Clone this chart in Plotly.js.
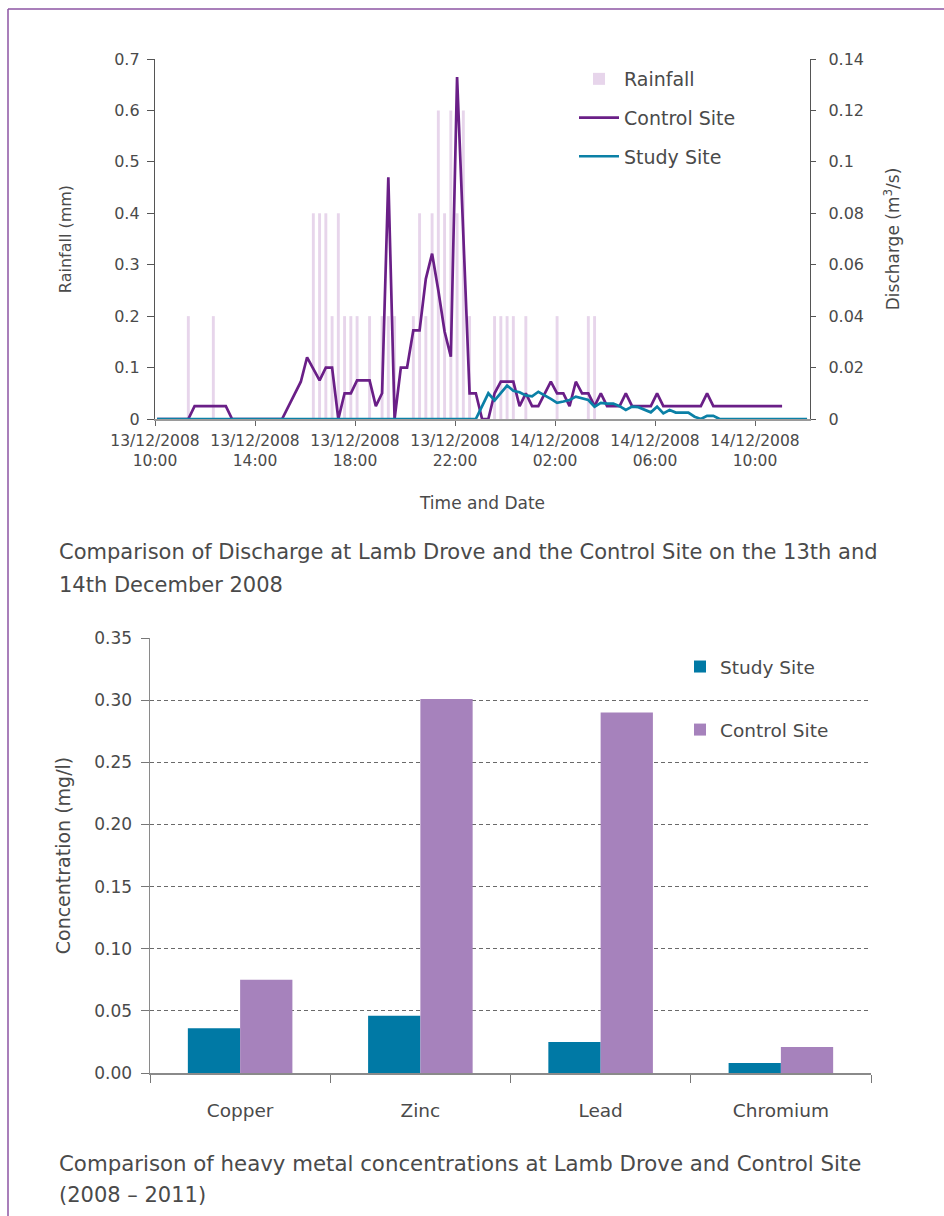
<!DOCTYPE html>
<html>
<head>
<meta charset="utf-8">
<script src="https://cdn.plot.ly/plotly-3.0.1.min.js"></script>
<style>
  html, body { margin: 0; padding: 0; background: #ffffff; }
  #chart { width: 944px; height: 1216px; }
</style>
</head>
<body>
<div id="chart"></div>
<script>
// ---------- Top chart data: rainfall (mm) ----------
var rainTime = ['2008-12-13 11:20','2008-12-13 12:20','2008-12-13 16:20','2008-12-13 16:35','2008-12-13 16:50',
  '2008-12-13 17:05','2008-12-13 17:20','2008-12-13 17:35','2008-12-13 17:50','2008-12-13 18:05',
  '2008-12-13 18:35','2008-12-13 19:05','2008-12-13 19:20','2008-12-13 19:35','2008-12-13 20:20',
  '2008-12-13 20:35','2008-12-13 20:50','2008-12-13 21:05','2008-12-13 21:20','2008-12-13 21:35',
  '2008-12-13 21:50','2008-12-13 22:05','2008-12-13 22:20','2008-12-13 22:35','2008-12-13 23:35',
  '2008-12-13 23:50','2008-12-14 00:05','2008-12-14 00:20','2008-12-14 00:50','2008-12-14 02:05',
  '2008-12-14 03:20','2008-12-14 03:35'];
var rainMm = [0.2,0.2,0.4,0.4,0.4,
  0.2,0.4,0.2,0.2,0.2,
  0.2,0.2,0.2,0.2,0.2,
  0.4,0.2,0.4,0.6,0.4,
  0.6,0.4,0.6,0.2,0.2,
  0.2,0.2,0.2,0.2,0.2,
  0.2,0.2];

// ---------- Control site discharge (m3/s) ----------
var controlTime = ['2008-12-13 10:05','2008-12-13 11:20','2008-12-13 11:35','2008-12-13 12:50','2008-12-13 13:05',
  '2008-12-13 15:05','2008-12-13 15:50','2008-12-13 16:05','2008-12-13 16:35','2008-12-13 16:50',
  '2008-12-13 17:05','2008-12-13 17:20','2008-12-13 17:35','2008-12-13 17:50','2008-12-13 18:05',
  '2008-12-13 18:35','2008-12-13 18:50','2008-12-13 19:05','2008-12-13 19:20','2008-12-13 19:35',
  '2008-12-13 19:50','2008-12-13 20:05','2008-12-13 20:20','2008-12-13 20:35','2008-12-13 20:50',
  '2008-12-13 21:05','2008-12-13 21:20','2008-12-13 21:35','2008-12-13 21:50','2008-12-13 22:05',
  '2008-12-13 22:35','2008-12-13 22:50','2008-12-13 23:05','2008-12-13 23:20','2008-12-13 23:35',
  '2008-12-13 23:50','2008-12-14 00:20','2008-12-14 00:35','2008-12-14 00:50','2008-12-14 01:05',
  '2008-12-14 01:20','2008-12-14 01:50','2008-12-14 02:05','2008-12-14 02:20','2008-12-14 02:35',
  '2008-12-14 02:50','2008-12-14 03:05','2008-12-14 03:20','2008-12-14 03:35','2008-12-14 03:50',
  '2008-12-14 04:05','2008-12-14 04:35','2008-12-14 04:50','2008-12-14 05:05','2008-12-14 05:50',
  '2008-12-14 06:05','2008-12-14 06:20','2008-12-14 07:50','2008-12-14 08:05','2008-12-14 08:20',
  '2008-12-14 11:05'];
var controlQ = [0,0,0.005,0.005,0,
  0,0.0145,0.024,0.015,0.02,
  0.02,0,0.01,0.01,0.015,
  0.015,0.005,0.01,0.094,0,
  0.02,0.02,0.0345,0.0345,0.0545,
  0.0643,0.05,0.034,0.0242,0.133,
  0.01,0.01,0,0,0.01,
  0.0145,0.0145,0.005,0.01,0.005,
  0.005,0.0145,0.01,0.01,0.005,
  0.0145,0.01,0.01,0.005,0.01,
  0.005,0.005,0.01,0.005,0.005,
  0.01,0.005,0.005,0.01,0.005,
  0.005];

// ---------- Study site discharge (m3/s) ----------
var studyTime = ['2008-12-13 10:05','2008-12-13 22:50','2008-12-13 23:20','2008-12-13 23:35','2008-12-14 00:05',
  '2008-12-14 00:20','2008-12-14 00:35','2008-12-14 00:50','2008-12-14 01:05','2008-12-14 01:20',
  '2008-12-14 01:50','2008-12-14 02:05','2008-12-14 02:20','2008-12-14 02:35','2008-12-14 02:50',
  '2008-12-14 03:05','2008-12-14 03:20','2008-12-14 03:35','2008-12-14 03:50','2008-12-14 04:05',
  '2008-12-14 04:20','2008-12-14 04:35','2008-12-14 04:50','2008-12-14 05:05','2008-12-14 05:20',
  '2008-12-14 05:50','2008-12-14 06:05','2008-12-14 06:20','2008-12-14 06:35','2008-12-14 06:50',
  '2008-12-14 07:20','2008-12-14 07:35','2008-12-14 07:50','2008-12-14 08:05','2008-12-14 08:20',
  '2008-12-14 08:35','2008-12-14 12:05'];
var studyQ = [0,0,0.010,0.0072,0.013,
  0.011,0.0104,0.0092,0.0088,0.0106,
  0.0078,0.0063,0.0068,0.0074,0.0087,
  0.008,0.0074,0.0048,0.0063,0.006,
  0.006,0.005,0.0035,0.0048,0.0046,
  0.0026,0.0048,0.0022,0.0035,0.0025,
  0.0025,0.0009,0,0.0012,0.0012,
  0,0];

var timeTickVals = ['2008-12-13 10:00','2008-12-13 14:00','2008-12-13 18:00','2008-12-13 22:00',
  '2008-12-14 02:00','2008-12-14 06:00','2008-12-14 10:00'];
var timeTickText = ['13/12/2008<br>10:00','13/12/2008<br>14:00','13/12/2008<br>18:00','13/12/2008<br>22:00',
  '14/12/2008<br>02:00','14/12/2008<br>06:00','14/12/2008<br>10:00'];

// ---------- Bottom chart data ----------
var metals = ['Copper','Zinc','Lead','Chromium'];
var studyConc = [0.036,0.046,0.025,0.008];
var controlConc = [0.075,0.301,0.290,0.021];

// ---------- helpers (pixel -> paper) ----------
var W = 944, H = 1216;
function px(x){ return x / W; }
function py(y){ return 1 - y / H; }

var FONT = '"DejaVu Sans", "Open Sans", sans-serif';
var TXT = '#4a4a4a';

var traces = [
  { type:'bar', name:'Rainfall', x:rainTime, y:rainMm, xaxis:'x', yaxis:'y',
    width: 7*60*1000, marker:{color:'#e7d5eb', line:{width:0}}, legendgroup:'a', legend:'legend' },
  { type:'scatter', mode:'lines', name:'Control Site', x:controlTime, y:controlQ, xaxis:'x', yaxis:'y2',
    line:{color:'#6a1f87', width:2.7}, legendgroup:'b', legend:'legend' },
  { type:'scatter', mode:'lines', name:'Study Site', x:studyTime, y:studyQ, xaxis:'x', yaxis:'y2',
    line:{color:'#0b80a6', width:2.7}, legendgroup:'c', legend:'legend' },
  { type:'bar', name:'Study Site', x:metals, y:studyConc, xaxis:'x2', yaxis:'y3',
    marker:{color:'#0079a5'}, legendgroup:'d', legend:'legend2' },
  { type:'bar', name:'Control Site', x:metals, y:controlConc, xaxis:'x2', yaxis:'y3',
    marker:{color:'#a682bc'}, legendgroup:'e', legend:'legend2' }
];

var layout = {
  width: W, height: H,
  margin: {l:0, r:0, t:0, b:0},
  paper_bgcolor:'#ffffff', plot_bgcolor:'rgba(0,0,0,0)',
  font: {family: FONT, size: 15, color: TXT},
  barmode: 'group', bargap: 0.42, bargroupgap: 0,
  showlegend: true,
  xaxis: {
    type:'date', domain:[px(155), px(810)], anchor:'y',
    range:['2008-12-13 10:00','2008-12-14 12:12'],
    tickmode:'array', tickvals: timeTickVals, ticktext: timeTickText,
    showline:true, linecolor:'#9a9a9a', linewidth:1.5,
    ticks:'outside', ticklen:5, tickcolor:'#666', showgrid:false, zeroline:false,
    ticklabelstandoff:2,
    tickfont:{size:15.5, color:TXT},
    title:{text:'Time and Date', font:{size:17, color:TXT}, standoff:28}
  },
  yaxis: {
    domain:[py(419), py(59)], anchor:'x', range:[0,0.7], dtick:0.1, tick0:0,
    showline:true, linecolor:'#555', linewidth:1.2, ticks:'outside', ticklen:7, tickcolor:'#555',
    ticklabelstandoff:4,
    showgrid:false, zeroline:false, tickfont:{size:16, color:TXT},
    title:{text:'Rainfall (mm)', font:{size:16, color:TXT}, standoff:38}
  },
  yaxis2: {
    overlaying:'y', side:'right', anchor:'x', range:[0,0.14], dtick:0.02, tick0:0,
    showline:true, linecolor:'#555', linewidth:1.2, ticks:'outside', ticklen:5, tickcolor:'#555',
    ticklabelstandoff:9,
    showgrid:false, zeroline:false, tickfont:{size:16, color:TXT},
    title:{text:'Discharge (m<sup>3</sup>/s)', font:{size:17, color:TXT}, standoff:24}
  },
  xaxis2: {
    type:'category', domain:[px(150), px(871)], anchor:'y3', range:[-0.5,3.5],
    showline:true, linecolor:'#8a8a8a', linewidth:1.5, ticks:'outside', tickson:'boundaries',
    ticklen:8, tickcolor:'#777', showgrid:false, zeroline:false, ticklabelstandoff:20,
    tickfont:{size:18.5, color:TXT}
  },
  yaxis3: {
    domain:[py(1073), py(638)], anchor:'x2', range:[0,0.35], dtick:0.05, tick0:0, tickformat:'.2f',
    showline:true, linecolor:'#8a8a8a', linewidth:1.5, ticks:'outside', ticklen:8, tickcolor:'#777',
    ticklabelstandoff:5,
    showgrid:true, gridcolor:'#6a6a6a', gridwidth:1, griddash:'4px,3px', zeroline:false,
    tickfont:{size:17, color:TXT},
    title:{text:'Concentration (mg/l)', font:{size:19, color:TXT}, standoff:18}
  },
  legend: {
    x: px(574), y: py(60), xanchor:'left', yanchor:'top', bgcolor:'rgba(0,0,0,0)',
    traceorder:'grouped', tracegroupgap: 11, font:{size:19, color:TXT}, itemwidth:40
  },
  legend2: {
    x: px(680), y: py(648), xanchor:'left', yanchor:'top', bgcolor:'rgba(0,0,0,0)',
    traceorder:'grouped', tracegroupgap: 36, font:{size:18.5, color:TXT}, itemwidth:30
  },
  annotations: [
    {xref:'paper', yref:'paper', x:px(57), y:py(552), xanchor:'left', yanchor:'middle', showarrow:false,
     text:'Comparison of Discharge at Lamb Drove and the Control Site on the 13th and', font:{size:21, color:TXT}},
    {xref:'paper', yref:'paper', x:px(57), y:py(585), xanchor:'left', yanchor:'middle', showarrow:false,
     text:'14th December 2008', font:{size:21, color:TXT}},
    {xref:'paper', yref:'paper', x:px(57), y:py(1163), xanchor:'left', yanchor:'middle', showarrow:false,
     text:'Comparison of heavy metal concentrations at Lamb Drove and Control Site', font:{size:21.3, color:TXT}},
    {xref:'paper', yref:'paper', x:px(57), y:py(1195), xanchor:'left', yanchor:'middle', showarrow:false,
     text:'(2008 – 2011)', font:{size:21, color:TXT}}
  ],
  shapes: [
    {type:'line', xref:'paper', yref:'paper', x0:px(8), x1:1, y0:py(9), y1:py(9), line:{color:'#8d55a3', width:1.5}},
    {type:'line', xref:'paper', yref:'paper', x0:px(8), x1:px(8), y0:py(9), y1:0, line:{color:'#8d55a3', width:1.5}}
  ]
};

Plotly.newPlot('chart', traces, layout, {displayModeBar:false, staticPlot:true});
</script>
</body>
</html>
